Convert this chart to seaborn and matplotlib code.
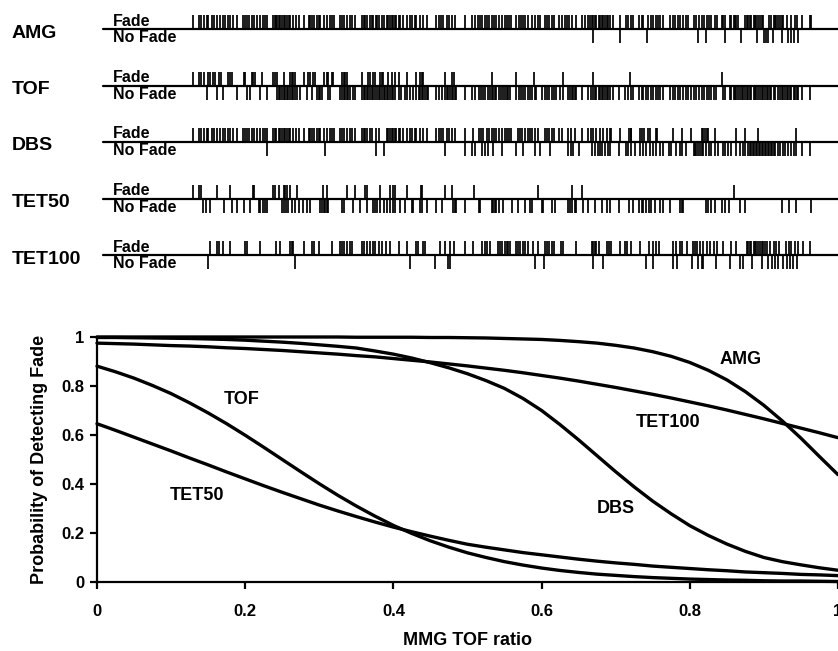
import numpy as np
import pandas as pd
import matplotlib
matplotlib.use("Agg")
import matplotlib.pyplot as plt
import seaborn as sns

sns.set_style("ticks")
plt.rcParams["font.family"] = ["Liberation Sans", "DejaVu Sans"]
plt.rcParams["font.weight"] = "bold"
for key in ("text.color", "axes.labelcolor", "xtick.color", "ytick.color", "axes.edgecolor"):
    plt.rcParams[key] = "black"

# --- rug data: MMG TOF ratio of each observation, split by fade / no fade ---
methods = ["AMG", "TOF", "DBS", "TET50", "TET100"]

amg_fade = [0.129, 0.137, 0.140, 0.144, 0.148, 0.150, 0.155, 0.158, 0.162, 0.166, 0.170, 0.173, 0.177,
            0.180, 0.183, 0.189, 0.197, 0.200, 0.202, 0.205, 0.209, 0.212, 0.216, 0.220, 0.224, 0.227,
            0.230, 0.238, 0.240, 0.242, 0.243, 0.245, 0.247, 0.249, 0.252, 0.254, 0.256, 0.259, 0.261,
            0.265, 0.268, 0.272, 0.279, 0.286, 0.288, 0.290, 0.293, 0.297, 0.299, 0.301, 0.306, 0.310,
            0.314, 0.317, 0.320, 0.328, 0.331, 0.333, 0.337, 0.342, 0.344, 0.348, 0.357, 0.360, 0.362,
            0.365, 0.368, 0.371, 0.373, 0.376, 0.378, 0.381, 0.385, 0.387, 0.391, 0.393, 0.396, 0.398,
            0.400, 0.402, 0.404, 0.407, 0.409, 0.413, 0.418, 0.422, 0.425, 0.429, 0.431, 0.436, 0.440,
            0.445, 0.457, 0.461, 0.464, 0.467, 0.472, 0.475, 0.479, 0.483, 0.497, 0.506, 0.510, 0.514,
            0.517, 0.520, 0.523, 0.526, 0.529, 0.533, 0.536, 0.539, 0.542, 0.546, 0.550, 0.553, 0.556,
            0.559, 0.565, 0.569, 0.572, 0.575, 0.578, 0.582, 0.587, 0.591, 0.595, 0.598, 0.604, 0.607,
            0.610, 0.614, 0.617, 0.623, 0.627, 0.631, 0.634, 0.637, 0.641, 0.647, 0.655, 0.658, 0.663,
            0.665, 0.668, 0.670, 0.672, 0.674, 0.677, 0.679, 0.681, 0.683, 0.686, 0.688, 0.690, 0.692,
            0.697, 0.706, 0.714, 0.717, 0.720, 0.723, 0.732, 0.735, 0.737, 0.744, 0.747, 0.751, 0.754,
            0.757, 0.760, 0.764, 0.773, 0.777, 0.780, 0.784, 0.787, 0.791, 0.795, 0.798, 0.805, 0.808,
            0.813, 0.816, 0.819, 0.823, 0.826, 0.829, 0.834, 0.837, 0.843, 0.845, 0.847, 0.854, 0.856,
            0.859, 0.861, 0.863, 0.865, 0.874, 0.877, 0.879, 0.881, 0.883, 0.886, 0.888, 0.890, 0.892,
            0.895, 0.897, 0.899, 0.907, 0.910, 0.913, 0.915, 0.917, 0.919, 0.922, 0.924, 0.926, 0.931,
            0.937, 0.942, 0.944, 0.952, 0.962, 0.964]
amg_nofade = [0.669, 0.706, 0.742, 0.811, 0.822, 0.847, 0.869, 0.891, 0.900, 0.903, 0.905, 0.912,
              0.924, 0.933, 0.936, 0.940, 0.946]

tof_fade = [0.129, 0.137, 0.140, 0.144, 0.150, 0.153, 0.157, 0.159, 0.164, 0.168, 0.177, 0.180, 0.182,
            0.198, 0.200, 0.209, 0.211, 0.213, 0.222, 0.238, 0.240, 0.243, 0.252, 0.261, 0.263, 0.265,
            0.267, 0.279, 0.285, 0.288, 0.292, 0.294, 0.306, 0.310, 0.312, 0.317, 0.319, 0.330, 0.333,
            0.335, 0.337, 0.357, 0.366, 0.368, 0.373, 0.375, 0.382, 0.384, 0.386, 0.393, 0.398, 0.402,
            0.407, 0.419, 0.430, 0.436, 0.438, 0.440, 0.470, 0.479, 0.482, 0.533, 0.566, 0.590, 0.629,
            0.670, 0.719, 0.843]
tof_nofade = [0.149, 0.162, 0.170, 0.189, 0.202, 0.207, 0.220, 0.229, 0.243, 0.245, 0.247, 0.249, 0.252,
              0.254, 0.256, 0.258, 0.261, 0.263, 0.265, 0.267, 0.270, 0.274, 0.283, 0.290, 0.297, 0.299,
              0.301, 0.303, 0.312, 0.315, 0.328, 0.330, 0.333, 0.335, 0.337, 0.339, 0.342, 0.346, 0.348,
              0.357, 0.360, 0.362, 0.364, 0.366, 0.369, 0.371, 0.373, 0.375, 0.378, 0.380, 0.382, 0.384,
              0.387, 0.389, 0.391, 0.393, 0.396, 0.398, 0.400, 0.402, 0.407, 0.410, 0.416, 0.419, 0.422,
              0.427, 0.430, 0.434, 0.436, 0.438, 0.440, 0.443, 0.445, 0.447, 0.458, 0.461, 0.465, 0.470,
              0.472, 0.474, 0.476, 0.479, 0.481, 0.483, 0.485, 0.497, 0.506, 0.510, 0.515, 0.518, 0.521,
              0.524, 0.528, 0.530, 0.533, 0.535, 0.537, 0.539, 0.542, 0.545, 0.548, 0.551, 0.553, 0.555,
              0.557, 0.566, 0.569, 0.572, 0.575, 0.578, 0.581, 0.584, 0.587, 0.591, 0.593, 0.600, 0.604,
              0.607, 0.610, 0.614, 0.617, 0.620, 0.625, 0.629, 0.636, 0.638, 0.641, 0.643, 0.645, 0.647,
              0.655, 0.663, 0.667, 0.670, 0.672, 0.674, 0.677, 0.679, 0.681, 0.683, 0.686, 0.688, 0.690,
              0.692, 0.697, 0.705, 0.712, 0.717, 0.720, 0.723, 0.732, 0.735, 0.737, 0.741, 0.744, 0.747,
              0.751, 0.754, 0.757, 0.760, 0.764, 0.773, 0.777, 0.780, 0.784, 0.787, 0.791, 0.795, 0.798,
              0.802, 0.805, 0.809, 0.813, 0.816, 0.819, 0.823, 0.826, 0.829, 0.832, 0.836, 0.845, 0.847,
              0.854, 0.856, 0.859, 0.861, 0.863, 0.865, 0.868, 0.870, 0.872, 0.874, 0.877, 0.879, 0.881,
              0.883, 0.886, 0.888, 0.890, 0.892, 0.895, 0.897, 0.899, 0.901, 0.904, 0.906, 0.908, 0.910,
              0.913, 0.915, 0.919, 0.922, 0.924, 0.926, 0.928, 0.931, 0.933, 0.935, 0.937, 0.940, 0.942,
              0.944, 0.946, 0.951, 0.962]

dbs_fade = [0.129, 0.137, 0.140, 0.144, 0.148, 0.150, 0.155, 0.158, 0.162, 0.166, 0.170, 0.173, 0.177,
            0.180, 0.183, 0.189, 0.197, 0.200, 0.202, 0.205, 0.209, 0.212, 0.216, 0.220, 0.224, 0.227,
            0.230, 0.238, 0.240, 0.242, 0.245, 0.247, 0.249, 0.252, 0.254, 0.256, 0.259, 0.261, 0.265,
            0.268, 0.272, 0.279, 0.286, 0.288, 0.290, 0.293, 0.297, 0.299, 0.301, 0.306, 0.310, 0.314,
            0.317, 0.320, 0.328, 0.331, 0.333, 0.337, 0.342, 0.344, 0.348, 0.357, 0.360, 0.362, 0.365,
            0.368, 0.371, 0.376, 0.381, 0.391, 0.393, 0.396, 0.398, 0.400, 0.402, 0.404, 0.407, 0.409,
            0.413, 0.418, 0.422, 0.425, 0.429, 0.431, 0.436, 0.440, 0.445, 0.457, 0.461, 0.464, 0.467,
            0.472, 0.475, 0.479, 0.483, 0.497, 0.508, 0.515, 0.518, 0.521, 0.526, 0.529, 0.533, 0.536,
            0.539, 0.542, 0.546, 0.551, 0.553, 0.556, 0.559, 0.568, 0.571, 0.574, 0.578, 0.581, 0.584,
            0.587, 0.591, 0.595, 0.604, 0.607, 0.610, 0.614, 0.617, 0.623, 0.627, 0.635, 0.640, 0.645,
            0.655, 0.663, 0.667, 0.670, 0.674, 0.679, 0.683, 0.688, 0.692, 0.694, 0.706, 0.718, 0.720,
            0.721, 0.733, 0.736, 0.738, 0.744, 0.746, 0.754, 0.756, 0.778, 0.789, 0.802, 0.816, 0.818,
            0.820, 0.823, 0.825, 0.834, 0.862, 0.874, 0.892, 0.943]
dbs_nofade = [0.230, 0.308, 0.377, 0.387, 0.469, 0.497, 0.506, 0.510, 0.520, 0.524, 0.528, 0.535, 0.546,
              0.565, 0.575, 0.591, 0.598, 0.611, 0.635, 0.640, 0.643, 0.650, 0.668, 0.672, 0.676, 0.679,
              0.682, 0.686, 0.690, 0.692, 0.705, 0.714, 0.717, 0.720, 0.726, 0.733, 0.737, 0.741, 0.746,
              0.750, 0.754, 0.760, 0.764, 0.772, 0.774, 0.782, 0.787, 0.790, 0.795, 0.805, 0.807, 0.809,
              0.811, 0.814, 0.816, 0.818, 0.822, 0.826, 0.829, 0.834, 0.838, 0.845, 0.847, 0.852, 0.856,
              0.862, 0.868, 0.872, 0.874, 0.879, 0.881, 0.883, 0.885, 0.887, 0.889, 0.891, 0.893, 0.895,
              0.897, 0.899, 0.901, 0.903, 0.905, 0.907, 0.909, 0.911, 0.913, 0.915, 0.919, 0.922, 0.926,
              0.929, 0.933, 0.936, 0.940, 0.943, 0.951, 0.962]

tet50_fade = [0.129, 0.138, 0.140, 0.162, 0.179, 0.210, 0.212, 0.238, 0.240, 0.245, 0.252, 0.254, 0.256,
              0.261, 0.270, 0.305, 0.310, 0.337, 0.348, 0.362, 0.365, 0.382, 0.396, 0.399, 0.402, 0.419,
              0.437, 0.439, 0.469, 0.479, 0.509, 0.595, 0.641, 0.655, 0.859]
tet50_nofade = [0.143, 0.147, 0.153, 0.171, 0.182, 0.189, 0.198, 0.207, 0.218, 0.220, 0.224, 0.227, 0.230,
                0.249, 0.252, 0.255, 0.258, 0.263, 0.267, 0.272, 0.278, 0.283, 0.288, 0.301, 0.303, 0.306,
                0.308, 0.310, 0.312, 0.330, 0.333, 0.346, 0.355, 0.364, 0.373, 0.375, 0.378, 0.382, 0.387,
                0.391, 0.396, 0.400, 0.402, 0.409, 0.416, 0.425, 0.427, 0.436, 0.438, 0.445, 0.458, 0.465,
                0.481, 0.483, 0.485, 0.497, 0.515, 0.517, 0.533, 0.535, 0.537, 0.539, 0.542, 0.548, 0.560,
                0.568, 0.578, 0.584, 0.587, 0.600, 0.602, 0.614, 0.618, 0.636, 0.638, 0.641, 0.645, 0.647,
                0.656, 0.663, 0.672, 0.681, 0.688, 0.692, 0.705, 0.718, 0.724, 0.732, 0.735, 0.737, 0.741,
                0.745, 0.747, 0.753, 0.760, 0.764, 0.773, 0.787, 0.789, 0.791, 0.822, 0.825, 0.829, 0.834,
                0.843, 0.847, 0.853, 0.868, 0.874, 0.925, 0.934, 0.943, 0.964]

tet100_fade = [0.152, 0.162, 0.165, 0.170, 0.180, 0.200, 0.202, 0.220, 0.242, 0.247, 0.260, 0.263, 0.265,
               0.279, 0.290, 0.293, 0.299, 0.317, 0.328, 0.330, 0.333, 0.337, 0.342, 0.344, 0.357, 0.360,
               0.364, 0.368, 0.372, 0.375, 0.380, 0.384, 0.390, 0.396, 0.407, 0.419, 0.430, 0.433, 0.440,
               0.443, 0.463, 0.470, 0.476, 0.482, 0.497, 0.508, 0.520, 0.523, 0.526, 0.530, 0.541, 0.544,
               0.546, 0.550, 0.553, 0.555, 0.557, 0.565, 0.568, 0.571, 0.575, 0.578, 0.582, 0.589, 0.595,
               0.604, 0.607, 0.610, 0.614, 0.617, 0.626, 0.629, 0.647, 0.668, 0.670, 0.672, 0.674, 0.677,
               0.688, 0.691, 0.694, 0.706, 0.712, 0.715, 0.720, 0.733, 0.745, 0.751, 0.755, 0.759, 0.778,
               0.782, 0.787, 0.790, 0.796, 0.804, 0.807, 0.810, 0.814, 0.818, 0.823, 0.827, 0.832, 0.837,
               0.845, 0.855, 0.862, 0.877, 0.879, 0.881, 0.883, 0.886, 0.888, 0.890, 0.892, 0.895, 0.897,
               0.899, 0.901, 0.904, 0.908, 0.913, 0.917, 0.921, 0.930, 0.934, 0.937, 0.942, 0.946, 0.953,
               0.962]
tet100_nofade = [0.150, 0.267, 0.422, 0.456, 0.474, 0.476, 0.591, 0.603, 0.669, 0.683, 0.741, 0.750,
                 0.777, 0.783, 0.803, 0.811, 0.817, 0.818, 0.835, 0.854, 0.868, 0.872, 0.884, 0.897, 0.906,
                 0.911, 0.915, 0.919, 0.926, 0.931, 0.935, 0.939, 0.945]

fade_obs = [amg_fade, tof_fade, dbs_fade, tet50_fade, tet100_fade]
nofade_obs = [amg_nofade, tof_nofade, dbs_nofade, tet50_nofade, tet100_nofade]

# --- fitted probability curves, read every 0.025 ---
ratio = [0.0, 0.025, 0.05, 0.075, 0.1, 0.125, 0.15, 0.175, 0.2, 0.225, 0.25, 0.275, 0.3, 0.325,
         0.35, 0.375, 0.4, 0.425, 0.45, 0.475, 0.5, 0.525, 0.55, 0.575, 0.6, 0.625, 0.65, 0.675,
         0.7, 0.725, 0.75, 0.775, 0.8, 0.825, 0.85, 0.875, 0.9, 0.925, 0.95, 0.975, 1.0]
p_amg = [1.0, 1.0, 1.0, 1.0, 1.0, 1.0, 1.0, 1.0, 1.0, 1.0, 1.0, 1.0, 1.0, 1.0,
         0.999, 0.999, 0.999, 0.999, 0.998, 0.998, 0.997, 0.996, 0.994, 0.992, 0.990, 0.986, 0.981, 0.975,
         0.966, 0.955, 0.940, 0.921, 0.896, 0.864, 0.825, 0.777, 0.721, 0.657, 0.587, 0.512, 0.438]
p_tof = [0.881, 0.858, 0.832, 0.802, 0.769, 0.731, 0.690, 0.646, 0.599, 0.550, 0.500, 0.450, 0.401, 0.354,
         0.310, 0.269, 0.231, 0.198, 0.168, 0.142, 0.119, 0.100, 0.083, 0.069, 0.057, 0.047, 0.039, 0.032,
         0.027, 0.022, 0.018, 0.015, 0.012, 0.010, 0.008, 0.007, 0.005, 0.004, 0.004, 0.003, 0.002]
p_dbs = [0.998, 0.998, 0.997, 0.996, 0.995, 0.994, 0.992, 0.990, 0.987, 0.983, 0.979, 0.974, 0.968, 0.962,
         0.955, 0.943, 0.930, 0.914, 0.895, 0.874, 0.850, 0.822, 0.790, 0.749, 0.700, 0.642, 0.580, 0.515,
         0.450, 0.388, 0.330, 0.278, 0.230, 0.190, 0.155, 0.125, 0.100, 0.083, 0.070, 0.058, 0.048]
p_tet50 = [0.646, 0.619, 0.591, 0.563, 0.535, 0.506, 0.478, 0.449, 0.421, 0.393, 0.366, 0.340, 0.314, 0.290,
           0.267, 0.245, 0.224, 0.205, 0.187, 0.170, 0.154, 0.142, 0.131, 0.120, 0.111, 0.102, 0.093, 0.085,
           0.078, 0.072, 0.065, 0.060, 0.055, 0.050, 0.046, 0.041, 0.038, 0.035, 0.031, 0.029, 0.026]
p_tet100 = [0.975, 0.973, 0.971, 0.968, 0.965, 0.963, 0.960, 0.956, 0.953, 0.949, 0.945, 0.940, 0.935, 0.930,
            0.924, 0.919, 0.912, 0.905, 0.898, 0.890, 0.882, 0.873, 0.864, 0.854, 0.843, 0.832, 0.820, 0.807,
            0.794, 0.780, 0.766, 0.751, 0.735, 0.719, 0.702, 0.684, 0.666, 0.647, 0.628, 0.609, 0.589]
probs = [p_amg, p_tof, p_dbs, p_tet50, p_tet100]

curves = pd.concat([pd.DataFrame({"ratio": ratio, "prob": p, "method": m})
                    for m, p in zip(methods, probs)], ignore_index=True)

W, H = 838, 651
fig = plt.figure(figsize=(W / 100, H / 100), dpi=100)


def fx(px):
    return px / W


def fy(py):
    return 1 - py / H


# --- rug strips ---
row_lines = [29, 86, 142, 199, 255]
tick_len = 14
for m, line_y, fobs, nobs in zip(methods, row_lines, fade_obs, nofade_obs):
    ax_up = fig.add_axes([fx(97), fy(line_y), fx(741), tick_len / H])
    ax_dn = fig.add_axes([fx(97), fy(line_y + tick_len), fx(741), tick_len / H])
    for a in (ax_up, ax_dn):
        a.set_xlim(0, 1)
        a.set_ylim(0, 1)
        a.axis("off")
    sns.rugplot(x=fobs, ax=ax_up, height=1, color="black", linewidth=1.25, expand_margins=False)
    sns.rugplot(x=nobs, ax=ax_dn, height=1, color="black", linewidth=1.25, expand_margins=False)
    ax_up.axhline(0, xmin=0.008, xmax=1, color="black", lw=1.6, clip_on=False)

    fig.text(fx(12), fy(line_y + 4), m, fontsize=14, fontweight="bold", ha="left", va="center")
    fig.text(fx(113), fy(line_y - 0.5), "Fade", fontsize=11.5, fontweight="bold",
             ha="left", va="bottom")
    fig.text(fx(113), fy(line_y + 1), "No Fade", fontsize=11.5, fontweight="bold",
             ha="left", va="top")

# --- probability curves ---
ax = fig.add_axes([fx(97), fy(582), fx(741), 245 / H])
sns.lineplot(data=curves, x="ratio", y="prob", units="method", estimator=None,
             color="black", linewidth=2.4, ax=ax, clip_on=False)
ax.set_xlim(0, 1)
ax.set_ylim(0, 1)
ticks = [0, 0.2, 0.4, 0.6, 0.8, 1]
tick_labels = ["0", "0.2", "0.4", "0.6", "0.8", "1"]
ax.set_xticks(ticks)
ax.set_xticklabels(tick_labels)
ax.set_yticks(ticks)
ax.set_yticklabels(tick_labels)
ax.tick_params(axis="both", direction="out", length=5, width=1.6, labelsize=12, color="black")
ax.tick_params(axis="x", pad=11)
ax.tick_params(axis="y", pad=4)
for lab in ax.get_xticklabels() + ax.get_yticklabels():
    lab.set_fontweight("bold")
sns.despine(ax=ax)
for s in ("left", "bottom"):
    ax.spines[s].set_linewidth(1.6)
    ax.spines[s].set_color("black")
ax.set_xlabel("MMG TOF ratio", fontsize=13, fontweight="bold", labelpad=9)
ax.set_ylabel("Probability of Detecting Fade", fontsize=13, fontweight="bold", labelpad=10)

ax.text(0.869, 0.91, "AMG", fontsize=13, fontweight="bold", ha="center", va="center")
ax.text(0.771, 0.649, "TET100", fontsize=13, fontweight="bold", ha="center", va="center")
ax.text(0.70, 0.298, "DBS", fontsize=13, fontweight="bold", ha="center", va="center")
ax.text(0.195, 0.743, "TOF", fontsize=13, fontweight="bold", ha="center", va="center")
ax.text(0.135, 0.355, "TET50", fontsize=13, fontweight="bold", ha="center", va="center")

fig.savefig("out.png", dpi=100)
